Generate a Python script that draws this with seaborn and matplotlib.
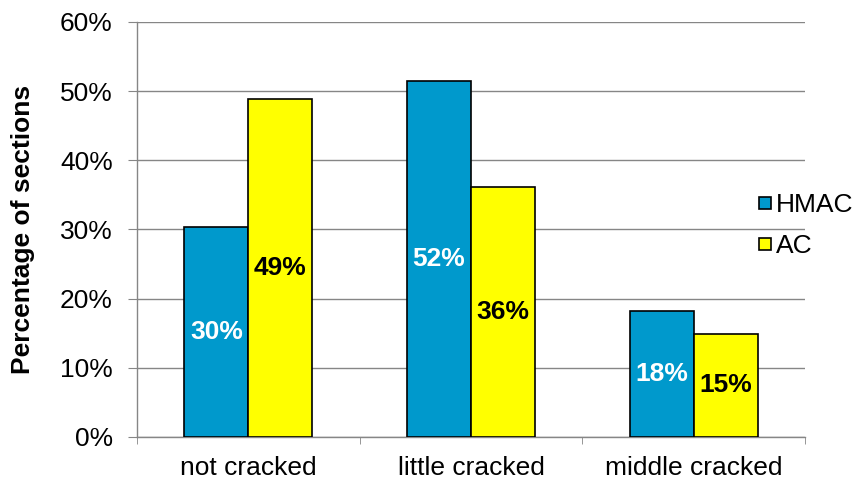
import matplotlib
matplotlib.use("Agg")
import matplotlib.pyplot as plt
from matplotlib.lines import Line2D
import seaborn as sns
import pandas as pd

categories = ["not cracked", "little cracked", "middle cracked"]
hmac = [30.3, 51.5, 18.2]
ac = [48.9, 36.2, 14.9]
series = ["HMAC", "AC"]
yticks = [0, 10, 20, 30, 40, 50, 60]

df = pd.DataFrame({
    "category": categories * 2,
    "type": ["HMAC"] * 3 + ["AC"] * 3,
    "value": hmac + ac,
})

sns.set_style("white")
plt.rcParams["font.family"] = ["Liberation Sans", "DejaVu Sans"]
plt.rcParams["text.color"] = "black"
plt.rcParams["axes.labelcolor"] = "black"
plt.rcParams["xtick.labelcolor"] = "black"
plt.rcParams["ytick.labelcolor"] = "black"

FS = 19

fig = plt.figure(figsize=(8.63, 4.82), dpi=100)
ax = fig.add_axes([0.1587, 0.0934, 0.9328 - 0.1587, 0.9544 - 0.0934])

colors = {"HMAC": "#0099CC", "AC": "#FFFF00"}
sns.barplot(data=df, x="category", y="value", hue="type", hue_order=series,
            palette=colors, saturation=1, width=0.575, edgecolor="black",
            linewidth=1.2, ax=ax, legend=False, zorder=3)

ax.set_ylim(0, 60)
ax.set_xlim(-0.5, 2.5)
ax.set_yticks(yticks)
ax.set_yticklabels([f"{t}%" for t in yticks], fontsize=FS)
ax.yaxis.grid(True, color="#868686", linewidth=1.0, zorder=0)
ax.set_axisbelow(True)

for s in ["top", "right"]:
    ax.spines[s].set_visible(False)
for s in ["left", "bottom"]:
    ax.spines[s].set_color("#868686")
    ax.spines[s].set_linewidth(1.0)

ax.tick_params(axis="y", direction="out", length=6.5, color="#868686", pad=11, left=True)
ax.set_xticks([0, 1, 2])
ax.set_xticklabels(categories, fontsize=FS)
ax.tick_params(axis="x", which="major", length=0, pad=14)
ax.set_xticks([-0.5, 0.5, 1.5, 2.5], minor=True)
ax.tick_params(axis="x", which="minor", direction="out", length=5, color="#868686", bottom=True)

ax.set_xlabel("")
ax.set_ylabel("Percentage of sections", fontsize=FS, fontweight="bold", labelpad=18)

label_colors = ["white", "black"]
for cont, col in zip(ax.containers, label_colors):
    vals = [b.get_height() for b in cont]
    ax.bar_label(cont, labels=[f"{round(v):.0f}%" for v in vals], label_type="center",
                 color=col, fontsize=FS, fontweight="bold")

handles = [Line2D([], [], linestyle="none", marker="s", markersize=8.5,
                  markerfacecolor=colors[s], markeredgecolor="black",
                  markeredgewidth=1.2) for s in series]
leg = fig.legend(handles, series, loc="center left", bbox_to_anchor=(0.879, 0.532),
                 frameon=False, fontsize=FS, handlelength=0.5,
                 handletextpad=0.15, labelspacing=0.62, borderpad=0, borderaxespad=0)

fig.savefig("out.png", dpi=100)
